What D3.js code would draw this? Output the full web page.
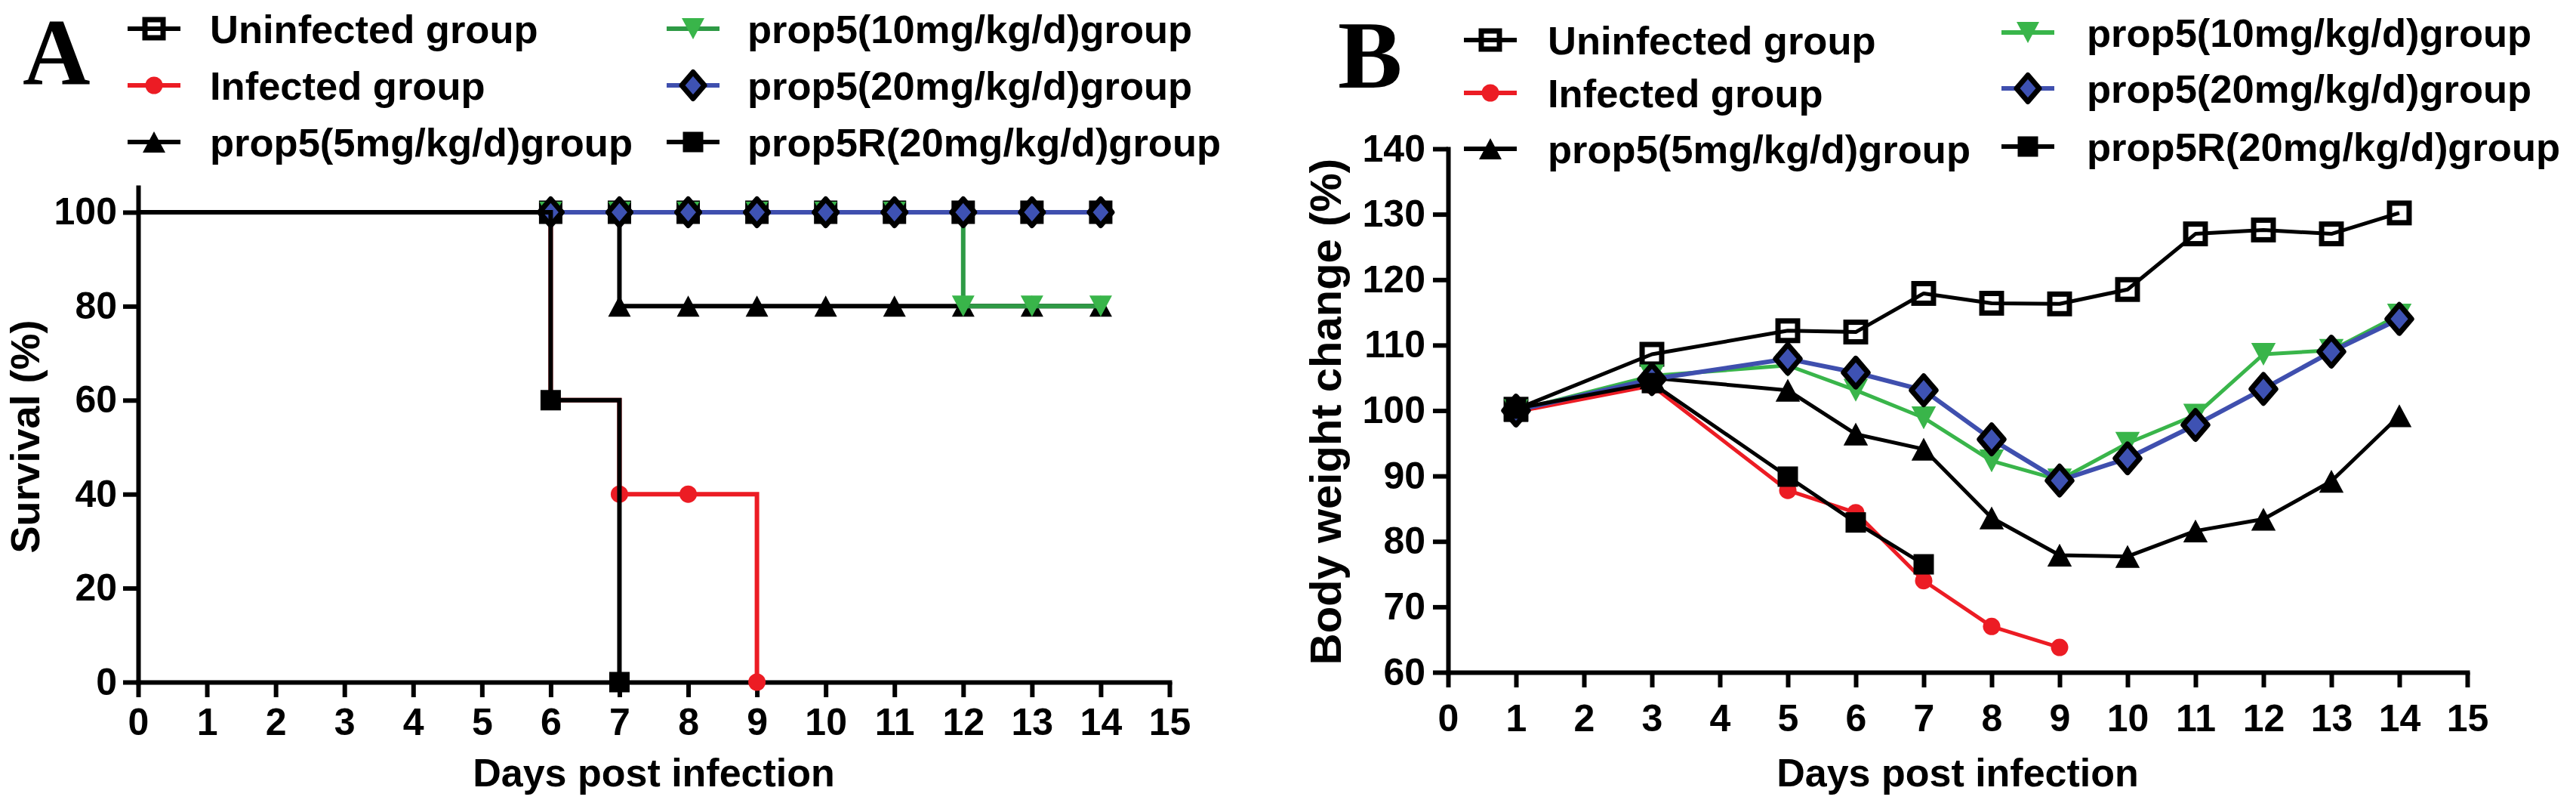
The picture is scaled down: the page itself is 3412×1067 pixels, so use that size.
<!DOCTYPE html>
<html>
<head>
<meta charset="utf-8">
<script src="https://cdn.jsdelivr.net/npm/d3@7"></script>
<style>
  html, body { margin: 0; padding: 0; background: #ffffff; }
  svg { display: block; }
  text { font-family: "Liberation Sans", Arial, Helvetica, sans-serif; font-weight: bold; fill: #000; }
</style>
</head>
<body>
<svg id="chart" width="3412" height="1067"></svg>
<script>
// ---------------- DATA ----------------
const groupNames = [
  "Uninfected group",
  "Infected group",
  "prop5(5mg/kg/d)group",
  "prop5(10mg/kg/d)group",
  "prop5(20mg/kg/d)group",
  "prop5R(20mg/kg/d)group"
];
const groupKeys = ["uninf", "inf", "p5", "p10", "p20", "p5R"];

// Panel A: survival (%) – Kaplan-Meier steps
const survXTicks = [0,1,2,3,4,5,6,7,8,9,10,11,12,13,14,15];
const survYTicks = [0,20,40,60,80,100];
const survDaysUninf = [0,6,7,8,9,10,11,12,13,14];
const survUninf     = [100,100,100,100,100,100,100,100,100,100];
const survDaysInf   = [0,6,7,8,9];
const survInf       = [100,60,40,40,0];
const survDays5     = [0,6,7,8,9,10,11,12,13,14];
const surv5         = [100,100,80,80,80,80,80,80,80,80];
const survDays10    = [0,6,7,8,9,10,11,12,13,14];
const surv10        = [100,100,100,100,100,100,100,80,80,80];
const survDays20    = [0,6,7,8,9,10,11,12,13,14];
const surv20        = [100,100,100,100,100,100,100,100,100,100];
const survDays5R    = [0,6,7];
const surv5R        = [100,60,0];

// Panel B: body weight change (%)
const bwXTicks = [0,1,2,3,4,5,6,7,8,9,10,11,12,13,14,15];
const bwYTicks = [60,70,80,90,100,110,120,130,140];
const bwDays      = [1,3,5,6,7,8,9,10,11,12,13,14];
const bwUninf     = [100.2,108.6,112.2,112.0,117.9,116.4,116.3,118.5,127.0,127.6,127.0,130.2];
const bwDaysInf   = [1,3,5,6,7,8,9];
const bwInf       = [99.8,103.8,87.8,84.4,74.0,67.0,63.8];
const bw5         = [100.0,105.0,103.1,96.4,94.1,83.6,77.9,77.7,81.6,83.4,89.2,99.2];
const bw10        = [100.0,105.3,106.9,103.1,98.9,92.3,89.4,95.0,99.3,108.6,109.2,114.6];
const bw20        = [100.0,104.8,107.9,105.8,103.1,95.6,89.3,92.7,97.8,103.3,109.0,114.0];
const bwDays5R    = [1,3,5,6,7];
const bw5R        = [100.3,104.2,89.9,82.9,76.5];

// ---------------- STYLE ----------------
const RED = "#ec1c24", GREEN = "#39b54a", GREEN_A = "#2e9a45", BLUE_LINE = "#3f4fae", BLUE_FILL = "#3e52b3";
const styles = {
  uninf: { line: "#000", marker: "squareOpen" },
  inf:   { line: RED,    marker: "circle" },
  p5:    { line: "#000", marker: "triUp" },
  p10:   { line: GREEN,  marker: "triDown" },
  p20:   { line: BLUE_LINE, marker: "diamond" },
  p5R:   { line: "#000", marker: "squareFill" }
};

const svg = d3.select("#chart");

function drawMarker(g, type, x, y, big) {
  const k = big ? 1.08 : 1;
  if (type === "squareOpen") {
    const s = 24 * k;
    g.append("rect").attr("x", x - s/2).attr("y", y - s/2).attr("width", s).attr("height", s)
      .attr("fill", "none").attr("stroke", "#000").attr("stroke-width", 7);
  } else if (type === "circle") {
    g.append("circle").attr("cx", x).attr("cy", y).attr("r", 11.5).attr("fill", RED);
  } else if (type === "triUp") {
    const w = 30 * k, h = 28 * k;
    g.append("path").attr("d", `M${x},${y - h/2} L${x + w/2},${y + h/2} L${x - w/2},${y + h/2} Z`).attr("fill", "#000");
  } else if (type === "triDown") {
    const w = 30 * k, h = 28 * k;
    g.append("path").attr("d", `M${x - w/2},${y - h/2} L${x + w/2},${y - h/2} L${x},${y + h/2} Z`).attr("fill", GREEN);
  } else if (type === "diamond") {
    const hw = 15 * k, hh = 17.5 * k;
    g.append("path").attr("d", `M${x},${y - hh} L${x + hw},${y} L${x},${y + hh} L${x - hw},${y} Z`)
      .attr("fill", BLUE_FILL).attr("stroke", "#000").attr("stroke-width", 7).attr("stroke-linejoin", "round");
  } else if (type === "squareFill") {
    const s = 27;
    g.append("rect").attr("x", x - s/2).attr("y", y - s/2).attr("width", s).attr("height", s).attr("fill", "#000");
  }
}

function styleAxis(g, fontSize) {
  g.select(".domain").attr("stroke", "#000").attr("stroke-width", 6).attr("stroke-linecap", "square");
  g.selectAll(".tick line").attr("stroke", "#000").attr("stroke-width", 6);
  g.selectAll(".tick text").style("font-size", fontSize + "px").style("font-family", "'Liberation Sans', Arial, sans-serif")
    .style("font-weight", "bold").attr("fill", "#000");
}

function drawLegend(cfg) {
  const g = svg.append("g");
  groupKeys.forEach((key, i) => {
    const col = i < 3 ? 0 : 1;
    const row = i % 3;
    const cx = cfg.markerX[col];
    const cy = cfg.rowY[col][row];
    const lineColor = (cfg.panel === "A" && key === "p10") ? GREEN_A : styles[key].line;
    g.append("line").attr("x1", cx - 35).attr("x2", cx + 35).attr("y1", cy).attr("y2", cy)
      .attr("stroke", lineColor).attr("stroke-width", 6);
    drawMarker(g, styles[key].marker, cx, cy, false);
    g.append("text").attr("x", cfg.textX[col]).attr("y", cy).attr("dy", "0.36em")
      .style("font-size", "52.5px").text(groupNames[i]);
  });
}

// ---------------- PANEL A ----------------
(function () {
  const x = d3.scaleLinear().domain([0, 15]).range([183, 1549]);
  const y = d3.scaleLinear().domain([0, 105.3]).range([903, 248]);

  svg.append("text").attr("x", 30).attr("y", 111)
    .style("font-family", "'Liberation Serif', 'Times New Roman', serif").style("font-size", "124px")
    .text("A");

  drawLegend({ panel: "A", markerX: [204, 918], textX: [278, 990], rowY: [[38, 113, 188], [38, 113, 188]] });

  const gx = svg.append("g").attr("transform", `translate(0,${y(0)})`)
    .call(d3.axisBottom(x).tickValues(survXTicks).tickFormat(d3.format("d")).tickSize(20).tickSizeOuter(0).tickPadding(14));
  styleAxis(gx, 50);
  const gy = svg.append("g").attr("transform", `translate(${x(0)},0)`)
    .call(d3.axisLeft(y).tickValues(survYTicks).tickFormat(d3.format("d")).tickSize(20).tickSizeOuter(0).tickPadding(8));
  styleAxis(gy, 50);

  svg.append("text").attr("transform", `translate(52,578) rotate(-90)`).attr("text-anchor", "middle")
    .style("font-size", "54px").text("Survival (%)");
  svg.append("text").attr("x", (x(0) + x(15)) / 2).attr("y", 1041).attr("text-anchor", "middle")
    .style("font-size", "52px").text("Days post infection");

  const series = [
    { key: "uninf", days: survDaysUninf, vals: survUninf },
    { key: "inf",   days: survDaysInf,   vals: survInf },
    { key: "p5",    days: survDays5,     vals: surv5 },
    { key: "p10",   days: survDays10,    vals: surv10 },
    { key: "p20",   days: survDays20,    vals: surv20 },
    { key: "p5R",   days: survDays5R,    vals: surv5R }
  ];
  const line = d3.line().x(d => x(d[0])).y(d => y(d[1])).curve(d3.curveStepAfter);
  const plot = svg.append("g");
  series.forEach(s => {
    const pts = s.days.map((d, i) => [d, s.vals[i]]);
    const col = s.key === "p10" ? GREEN_A : styles[s.key].line;
    plot.append("path").attr("d", line(pts)).attr("fill", "none").attr("stroke", col)
      .attr("stroke-width", 6).attr("stroke-linejoin", "miter");
    const mg = plot.append("g");
    pts.forEach(p => { if (p[0] > 0) drawMarker(mg, styles[s.key].marker, x(p[0]), y(p[1]), false); });
  });
})();

// ---------------- PANEL B ----------------
(function () {
  const x = d3.scaleLinear().domain([0, 15]).range([1918, 3268]);
  const y = d3.scaleLinear().domain([60, 140]).range([890, 197]);

  svg.append("text").attr("x", 1772).attr("y", 116)
    .style("font-family", "'Liberation Serif', 'Times New Roman', serif").style("font-size", "128px")
    .text("B");

  drawLegend({ panel: "B", markerX: [1974, 2686], textX: [2050, 2764], rowY: [[53, 123, 197], [43, 117, 194]] });

  const gx = svg.append("g").attr("transform", `translate(0,${y(60)})`)
    .call(d3.axisBottom(x).tickValues(bwXTicks).tickFormat(d3.format("d")).tickSize(20).tickSizeOuter(0).tickPadding(22));
  styleAxis(gx, 50);
  const gy = svg.append("g").attr("transform", `translate(${x(0)},0)`)
    .call(d3.axisLeft(y).tickValues(bwYTicks).tickFormat(d3.format("d")).tickSize(20).tickSizeOuter(0).tickPadding(10));
  styleAxis(gy, 50);

  svg.append("text").attr("transform", `translate(1776,545) rotate(-90)`).attr("text-anchor", "middle")
    .style("font-size", "58px").text("Body weight change (%)");
  svg.append("text").attr("x", (x(0) + x(15)) / 2).attr("y", 1041).attr("text-anchor", "middle")
    .style("font-size", "52px").text("Days post infection");

  const series = [
    { key: "uninf", days: bwDays,     vals: bwUninf },
    { key: "inf",   days: bwDaysInf,  vals: bwInf },
    { key: "p5",    days: bwDays,     vals: bw5 },
    { key: "p10",   days: bwDays,     vals: bw10 },
    { key: "p20",   days: bwDays,     vals: bw20 },
    { key: "p5R",   days: bwDays5R,   vals: bw5R }
  ];
  const line = d3.line().x(d => x(d[0])).y(d => y(d[1]));
  const plot = svg.append("g");
  series.forEach(s => {
    const pts = s.days.map((d, i) => [d, s.vals[i]]);
    plot.append("path").attr("d", line(pts)).attr("fill", "none").attr("stroke", styles[s.key].line)
      .attr("stroke-width", s.key === "p20" ? 6 : 5).attr("stroke-linejoin", "round");
    const mg = plot.append("g");
    pts.forEach(p => drawMarker(mg, styles[s.key].marker, x(p[0]), y(p[1]), true));
  });
})();
</script>
</body>
</html>
